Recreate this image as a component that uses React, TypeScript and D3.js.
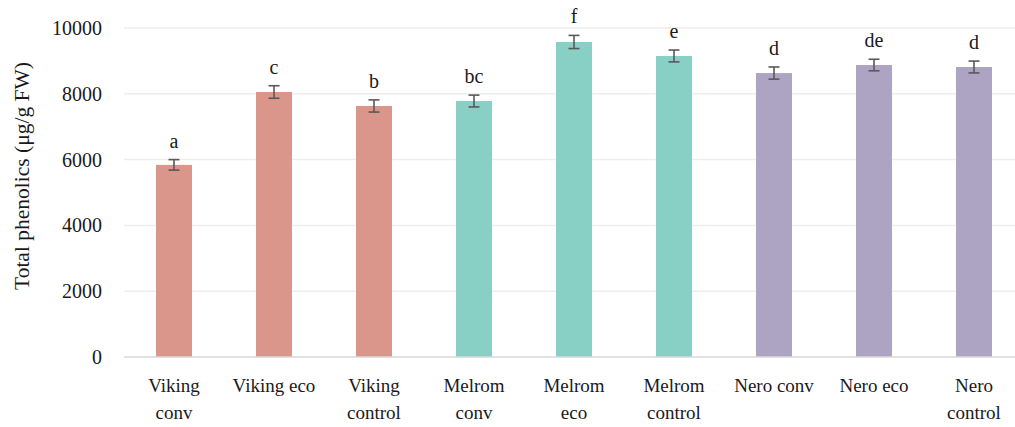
import React, { useEffect, useRef } from "react";
import * as d3 from "d3";

const categories = [
  "Viking conv",
  "Viking eco",
  "Viking control",
  "Melrom conv",
  "Melrom eco",
  "Melrom control",
  "Nero conv",
  "Nero eco",
  "Nero control",
];
const values = [5840, 8055, 7630, 7780, 9575, 9150, 8630, 8875, 8815];
const errors = [160, 190, 185, 180, 200, 180, 185, 175, 180];
const letters = ["a", "c", "b", "bc", "f", "e", "d", "de", "d"];
const groups = ["Viking", "Viking", "Viking", "Melrom", "Melrom", "Melrom", "Nero", "Nero", "Nero"];
const groupNames = ["Viking", "Melrom", "Nero"];
const groupColors = ["#DA968A", "#88CFC6", "#ADA3C3"];
const yTicks = [0, 2000, 4000, 6000, 8000, 10000];
const yTitle = "Total phenolics (\u03bcg/g FW)";

const W = 1015;
const H = 427;
const FONT = "'Liberation Serif', 'Times New Roman', serif";

export default function App() {
  const ref = useRef<SVGSVGElement>(null);

  useEffect(() => {
    const svg = d3.select(ref.current);
    svg.selectAll("*").remove();

    const x = d3.scaleBand<string>().domain(categories).range([124, 1024]).paddingInner(0.64).paddingOuter(0.32);
    const y = d3.scaleLinear().domain([0, 10000]).range([357, 28]);
    const color = d3.scaleOrdinal<string, string>().domain(groupNames).range(groupColors);

    // gridlines
    svg
      .append("g")
      .selectAll("line")
      .data(yTicks.filter((t) => t > 0))
      .join("line")
      .attr("x1", 124)
      .attr("x2", 1024)
      .attr("y1", (d) => y(d))
      .attr("y2", (d) => y(d))
      .attr("stroke", "#EDEDED")
      .attr("stroke-width", 1.5);

    // y tick labels
    svg
      .append("g")
      .selectAll("text")
      .data(yTicks)
      .join("text")
      .attr("x", 102)
      .attr("y", (d) => y(d))
      .attr("dy", "0.35em")
      .attr("text-anchor", "end")
      .attr("font-family", FONT)
      .attr("font-size", 20)
      .attr("fill", "#1a1a1a")
      .text((d) => String(d));

    // bars
    svg
      .append("g")
      .selectAll("rect")
      .data(categories)
      .join("rect")
      .attr("x", (d) => x(d)!)
      .attr("width", x.bandwidth())
      .attr("y", (d, i) => y(values[i]))
      .attr("height", (d, i) => y(0) - y(values[i]))
      .attr("fill", (d, i) => color(groups[i]));

    // axis line
    svg
      .append("line")
      .attr("x1", 124)
      .attr("x2", 1024)
      .attr("y1", y(0))
      .attr("y2", y(0))
      .attr("stroke", "#D9D9D9")
      .attr("stroke-width", 1.5);

    // error bars
    const eb = svg.append("g").attr("stroke", "#595959").attr("stroke-width", 1.6);
    categories.forEach((c, i) => {
      const cx = x(c)! + x.bandwidth() / 2;
      const top = y(values[i] + errors[i]);
      const bot = y(values[i] - errors[i]);
      eb.append("line").attr("x1", cx).attr("x2", cx).attr("y1", top).attr("y2", bot);
      eb.append("line").attr("x1", cx - 5.5).attr("x2", cx + 5.5).attr("y1", top).attr("y2", top);
      eb.append("line").attr("x1", cx - 5.5).attr("x2", cx + 5.5).attr("y1", bot).attr("y2", bot);
    });

    // significance letters
    svg
      .append("g")
      .selectAll("text")
      .data(categories)
      .join("text")
      .attr("x", (d) => x(d)! + x.bandwidth() / 2)
      .attr("y", (d, i) => y(values[i] + errors[i]) - 12)
      .attr("text-anchor", "middle")
      .attr("font-family", FONT)
      .attr("font-size", 20)
      .attr("fill", "#1a1a1a")
      .text((d, i) => letters[i]);

    // x labels with wrapping
    const xl = svg.append("g");
    categories.forEach((c) => {
      const cx = x(c)! + x.bandwidth() / 2;
      const t = xl
        .append("text")
        .attr("x", cx)
        .attr("y", 392)
        .attr("text-anchor", "middle")
        .attr("font-family", FONT)
        .attr("font-size", 19)
        .attr("fill", "#1a1a1a")
        .text(c);
      const len = (t.node() as SVGTextElement).getComputedTextLength();
      if (len > 90) {
        const words = c.split(" ");
        t.text(null);
        t.append("tspan").attr("x", cx).attr("y", 392).text(words[0]);
        t.append("tspan").attr("x", cx).attr("y", 419).text(words.slice(1).join(" "));
      }
    });

    // y title
    svg
      .append("text")
      .attr("transform", `translate(29,176) rotate(-90)`)
      .attr("text-anchor", "middle")
      .attr("font-family", FONT)
      .attr("font-size", 21.5)
      .attr("fill", "#1a1a1a")
      .text(yTitle);
  }, []);

  return (
    <div style={{ position: "absolute", left: 0, top: 0, width: W, height: H, overflow: "hidden", background: "#fff" }}>
      <svg ref={ref} width={W} height={H} style={{ display: "block" }} />
    </div>
  );
}
